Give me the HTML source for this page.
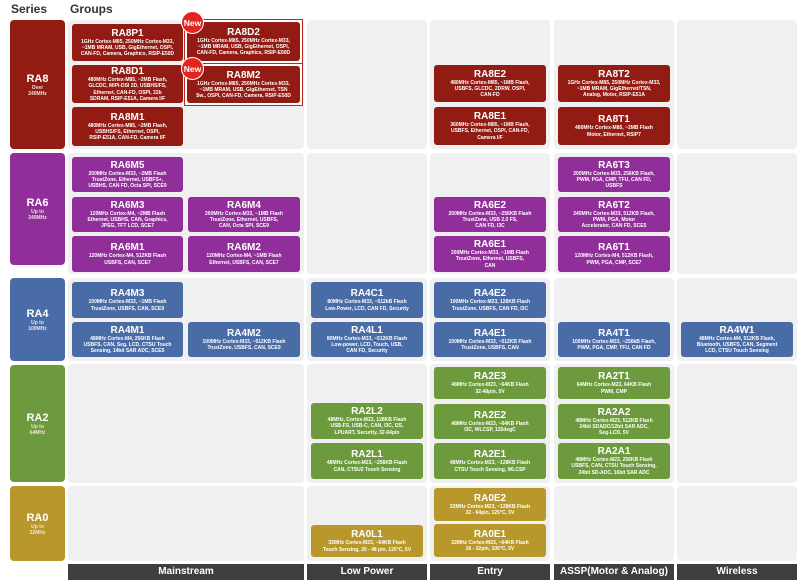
<!DOCTYPE html>
<html><head><meta charset="utf-8"><style>
*{margin:0;padding:0;box-sizing:border-box}
body{width:800px;height:583px;background:#fff;position:relative;overflow:hidden;font-family:"Liberation Sans",Arial,sans-serif;font-weight:bold}
.p{position:absolute;background:#f0f0f0;border-radius:4px}
.s{position:absolute;left:10px;width:55px;border-radius:4px;color:#fff;text-align:center;display:flex;flex-direction:column;justify-content:center;align-items:center}
.s b{font-size:11px;line-height:12px}
.s i{font-style:normal;font-size:5px;line-height:6px;color:#f0e0e0}
.c{position:absolute;border-radius:3px;color:#fff;text-align:center;display:flex;flex-direction:column;justify-content:center;align-items:center;padding:0 2px}
.c b{font-size:10px;line-height:11px;display:block}
.c span{font-size:5px;line-height:6.3px;display:block}
.r8{background:#921b13}.r6{background:#902f99}.r4{background:#4a6ca6}.r2{background:#6c9a3c}.r0{background:#b9982b}
.f{position:absolute;top:564px;height:16px;background:#3e3e3e;color:#fff;font-size:10px;line-height:16px;text-align:center}
.h{position:absolute;top:2px;font-size:12px;color:#333}
.nb{position:absolute;width:23px;height:23px;border-radius:50%;background:#e0261f;color:#fff;font-size:8.5px;line-height:23px;text-align:center;border:1px solid #fff}
.ob{position:absolute;border:1px solid #c0281f;background:#fff}
</style></head><body>
<div class="h" style="left:11px">Series</div>
<div class="h" style="left:70px">Groups</div>

<!-- panels -->
<div class="p" style="left:68px;top:20px;width:236px;height:129px"></div>
<div class="p" style="left:307px;top:20px;width:120px;height:129px"></div>
<div class="p" style="left:430px;top:20px;width:120px;height:129px"></div>
<div class="p" style="left:554px;top:20px;width:120px;height:129px"></div>
<div class="p" style="left:677px;top:20px;width:120px;height:129px"></div>

<div class="p" style="left:68px;top:153px;width:236px;height:121px"></div>
<div class="p" style="left:307px;top:153px;width:120px;height:121px"></div>
<div class="p" style="left:430px;top:153px;width:120px;height:121px"></div>
<div class="p" style="left:554px;top:153px;width:120px;height:121px"></div>
<div class="p" style="left:677px;top:153px;width:120px;height:121px"></div>

<div class="p" style="left:68px;top:278px;width:236px;height:83px"></div>
<div class="p" style="left:307px;top:278px;width:120px;height:83px"></div>
<div class="p" style="left:430px;top:278px;width:120px;height:83px"></div>
<div class="p" style="left:554px;top:278px;width:120px;height:83px"></div>
<div class="p" style="left:677px;top:278px;width:120px;height:83px"></div>

<div class="p" style="left:68px;top:364px;width:236px;height:119px"></div>
<div class="p" style="left:307px;top:364px;width:120px;height:119px"></div>
<div class="p" style="left:430px;top:364px;width:120px;height:119px"></div>
<div class="p" style="left:554px;top:364px;width:120px;height:119px"></div>
<div class="p" style="left:677px;top:364px;width:120px;height:119px"></div>

<div class="p" style="left:68px;top:486px;width:236px;height:75px"></div>
<div class="p" style="left:307px;top:486px;width:120px;height:75px"></div>
<div class="p" style="left:430px;top:486px;width:120px;height:75px"></div>
<div class="p" style="left:554px;top:486px;width:120px;height:75px"></div>
<div class="p" style="left:677px;top:486px;width:120px;height:75px"></div>

<!-- series -->
<div class="s r8" style="top:20px;height:129px"><b>RA8</b><i>Over<br>240MHz</i></div>
<div class="s r6" style="top:153px;height:112px"><b>RA6</b><i>Up to<br>240MHz</i></div>
<div class="s r4" style="top:278px;height:83px"><b>RA4</b><i>Up to<br>100MHz</i></div>
<div class="s r2" style="top:365px;height:117px"><b>RA2</b><i>Up to<br>64MHz</i></div>
<div class="s r0" style="top:486px;height:75px"><b>RA0</b><i>Up to<br>32MHz</i></div>

<!-- RA8 -->
<div class="c r8" style="left:72px;top:24px;width:111px;height:37px"><b>RA8P1</b><span>1GHz Cortex-M85, 250MHz Cortex-M33,<br>~1MB MRAM, USB, GigEthernet, OSPI,<br>CAN-FD, Camera, Graphics, RSIP-E50D</span></div>
<div class="ob" style="left:184px;top:19px;width:119px;height:45px"></div>
<div class="c r8" style="left:187px;top:22px;width:113px;height:39px"><b>RA8D2</b><span>1GHz Cortex-M85, 250MHz Cortex-M33,<br>~1MB MRAM, USB, GigEthernet, OSPI,<br>CAN-FD, Camera, Graphics, RSIP-E50D</span></div>
<div class="c r8" style="left:72px;top:65px;width:111px;height:38px"><b>RA8D1</b><span>480MHz Cortex-M85, ~2MB Flash,<br>GLCDC, MIPI-DSI 2D, USBHS/FS,<br>Ethernet, CAN-FD, OSPI, 32b<br>SDRAM, RSIP-E51A, Camera I/F</span></div>
<div class="ob" style="left:184px;top:63px;width:119px;height:43px"></div>
<div class="c r8" style="left:187px;top:66px;width:113px;height:37px"><b>RA8M2</b><span>1GHz Cortex-M85, 250MHz Cortex-M33,<br>~1MB MRAM, USB, GigEthernet, TSN<br>Sw., OSPI, CAN-FD, Camera, RSIP-E50D</span></div>
<div class="c r8" style="left:72px;top:107px;width:111px;height:39px"><b>RA8M1</b><span>480MHz Cortex-M85, ~2MB Flash,<br>USBHS/FS, Ethernet, OSPI,<br>RSIP-E51A, CAN-FD, Camera I/F</span></div>
<div class="nb" style="left:181px;top:11px">New</div>
<div class="nb" style="left:181px;top:57px">New</div>
<div class="c r8" style="left:434px;top:65px;width:112px;height:37px"><b>RA8E2</b><span>480MHz Cortex-M85, ~1MB Flash,<br>USBFS, GLCDC, 2DRW, OSPI,<br>CAN-FD</span></div>
<div class="c r8" style="left:434px;top:107px;width:112px;height:38px"><b>RA8E1</b><span>360MHz Cortex-M85, ~1MB Flash,<br>USBFS, Ethernet, OSPI, CAN-FD,<br>Camera I/F</span></div>
<div class="c r8" style="left:558px;top:65px;width:112px;height:37px"><b>RA8T2</b><span>1GHz Cortex-M85, 250MHz Cortex-M33,<br>~1MB MRAM, GigEthernet/TSN,<br>Analog, Motor, RSIP-E51A</span></div>
<div class="c r8" style="left:558px;top:107px;width:112px;height:38px"><b>RA8T1</b><span>480MHz Cortex-M85, ~2MB Flash<br>Motor, Ethernet, RSIP7</span></div>

<!-- RA6 -->
<div class="c r6" style="left:72px;top:157px;width:111px;height:35px"><b>RA6M5</b><span>200MHz Cortex-M33, ~2MB Flash<br>TrustZone, Ethernet, USBFS+,<br>USBHS, CAN FD, Octa SPI, SCE9</span></div>
<div class="c r6" style="left:72px;top:197px;width:111px;height:35px"><b>RA6M3</b><span>120MHz Cortex-M4, ~2MB Flash<br>Ethernet, USBHS, CAN, Graphics,<br>JPEG, TFT LCD, SCE7</span></div>
<div class="c r6" style="left:188px;top:197px;width:112px;height:35px"><b>RA6M4</b><span>200MHz Cortex-M33, ~1MB Flash<br>TrustZone, Ethernet, USBFS,<br>CAN, Octa SPI, SCE9</span></div>
<div class="c r6" style="left:72px;top:236px;width:111px;height:36px"><b>RA6M1</b><span>120MHz Cortex-M4, 512KB Flash<br>USBFS, CAN, SCE7</span></div>
<div class="c r6" style="left:188px;top:236px;width:112px;height:36px"><b>RA6M2</b><span>120MHz Cortex-M4, ~1MB Flash<br>Ethernet, USBFS, CAN, SCE7</span></div>
<div class="c r6" style="left:434px;top:197px;width:112px;height:35px"><b>RA6E2</b><span>200MHz Cortex-M33, ~256KB Flash<br>TrustZone, USB 2.0 FS,<br>CAN FD, I3C</span></div>
<div class="c r6" style="left:434px;top:236px;width:112px;height:36px"><b>RA6E1</b><span>200MHz Cortex-M33, ~1MB Flash<br>TrustZone, Ethernet, USBFS,<br>CAN</span></div>
<div class="c r6" style="left:558px;top:157px;width:112px;height:35px"><b>RA6T3</b><span>200MHz Cortex-M33, 256KB Flash,<br>PWM, PGA, CMP, TFU, CAN FD,<br>USBFS</span></div>
<div class="c r6" style="left:558px;top:197px;width:112px;height:35px"><b>RA6T2</b><span>240MHz Cortex-M33, 512KB Flash,<br>PWM, PGA, Motor<br>Accelerator, CAN FD, SCE5</span></div>
<div class="c r6" style="left:558px;top:236px;width:112px;height:36px"><b>RA6T1</b><span>120MHz Cortex-M4, 512KB Flash,<br>PWM, PGA, CMP, SCE7</span></div>

<!-- RA4 -->
<div class="c r4" style="left:72px;top:282px;width:111px;height:36px"><b>RA4M3</b><span>100MHz Cortex-M33, ~1MB Flash<br>TrustZone, USBFS, CAN, SCE9</span></div>
<div class="c r4" style="left:72px;top:322px;width:111px;height:35px"><b>RA4M1</b><span>48MHz Cortex-M4, 256KB Flash<br>USBFS, CAN, Seg. LCD, CTSU Touch<br>Sensing, 14bit SAR ADC, SCE5</span></div>
<div class="c r4" style="left:188px;top:322px;width:112px;height:35px"><b>RA4M2</b><span>100MHz Cortex-M33, ~512KB Flash<br>TrustZone, USBFS, CAN, SCE9</span></div>
<div class="c r4" style="left:311px;top:282px;width:112px;height:36px"><b>RA4C1</b><span>80MHz Cortex-M33, ~512kB Flash<br>Low-Power, LCD, CAN FD, Security</span></div>
<div class="c r4" style="left:311px;top:322px;width:112px;height:35px"><b>RA4L1</b><span>80MHz Cortex-M33, ~512KB Flash<br>Low-power, LCD, Touch, USB,<br>CAN FD, Security</span></div>
<div class="c r4" style="left:434px;top:282px;width:112px;height:36px"><b>RA4E2</b><span>100MHz Cortex-M33, 128KB Flash<br>TrustZone, USBFS, CAN FD, I3C</span></div>
<div class="c r4" style="left:434px;top:322px;width:112px;height:35px"><b>RA4E1</b><span>100MHz Cortex-M33, ~512KB Flash<br>TrustZone, USBFS, CAN</span></div>
<div class="c r4" style="left:558px;top:322px;width:112px;height:35px"><b>RA4T1</b><span>100MHz Cortex-M33, ~256kB Flash,<br>PWM, PGA, CMP, TFU, CAN FD</span></div>
<div class="c r4" style="left:681px;top:322px;width:112px;height:35px"><b>RA4W1</b><span>48MHz Cortex-M4, 512KB Flash,<br>Bluetooth, USBFS, CAN, Segment<br>LCD, CTSU Touch Sensing</span></div>

<!-- RA2 -->
<div class="c r2" style="left:311px;top:403px;width:112px;height:36px"><b>RA2L2</b><span>48MHz, Cortex-M23, 128KB Flash<br>USB-FS, USB-C, CAN, I3C, I2S,<br>LPUART, Security, 32-64pin</span></div>
<div class="c r2" style="left:311px;top:443px;width:112px;height:36px"><b>RA2L1</b><span>48MHz Cortex-M23, ~256KB Flash<br>CAN, CTSU2 Touch Sensing</span></div>
<div class="c r2" style="left:434px;top:367px;width:112px;height:32px"><b>RA2E3</b><span>48MHz Cortex-M23, ~64KB Flash<br>32-48pin, 5V</span></div>
<div class="c r2" style="left:434px;top:404px;width:112px;height:35px"><b>RA2E2</b><span>48MHz Cortex-M23, ~64KB Flash<br>I3C, WLCSP, 125degC</span></div>
<div class="c r2" style="left:434px;top:443px;width:112px;height:36px"><b>RA2E1</b><span>48MHz Cortex-M23, ~128KB Flash<br>CTSU Touch Sensing, WLCSP</span></div>
<div class="c r2" style="left:558px;top:367px;width:112px;height:32px"><b>RA2T1</b><span>64MHz Cortex-M23, 64KB Flash<br>PWM, CMP</span></div>
<div class="c r2" style="left:558px;top:404px;width:112px;height:35px"><b>RA2A2</b><span>48MHz Cortex-M23, 512KB Flash<br>24bit SDADC/12bit SAR ADC,<br>Seg-LCD, 5V</span></div>
<div class="c r2" style="left:558px;top:443px;width:112px;height:36px"><b>RA2A1</b><span>48MHz Cortex-M23, 256KB Flash<br>USBFS, CAN, CTSU Touch Sensing,<br>24bit SD-ADC, 16bit SAR ADC</span></div>

<!-- RA0 -->
<div class="c r0" style="left:311px;top:525px;width:112px;height:32px"><b>RA0L1</b><span>32MHz Cortex-M23, ~64KB Flash<br>Touch Sensing, 20 - 48 pin, 125°C, 5V</span></div>
<div class="c r0" style="left:434px;top:488px;width:112px;height:33px"><b>RA0E2</b><span>32MHz Cortex-M23, ~128KB Flash<br>32 - 64pin, 125°C, 5V</span></div>
<div class="c r0" style="left:434px;top:524px;width:112px;height:33px"><b>RA0E1</b><span>32MHz Cortex-M23, ~64KB Flash<br>16 - 32pin, 105°C, 5V</span></div>

<!-- footer -->
<div class="f" style="left:68px;width:236px">Mainstream</div>
<div class="f" style="left:307px;width:120px">Low Power</div>
<div class="f" style="left:430px;width:120px">Entry</div>
<div class="f" style="left:554px;width:120px">ASSP(Motor &amp; Analog)</div>
<div class="f" style="left:677px;width:120px">Wireless</div>
</body></html>
